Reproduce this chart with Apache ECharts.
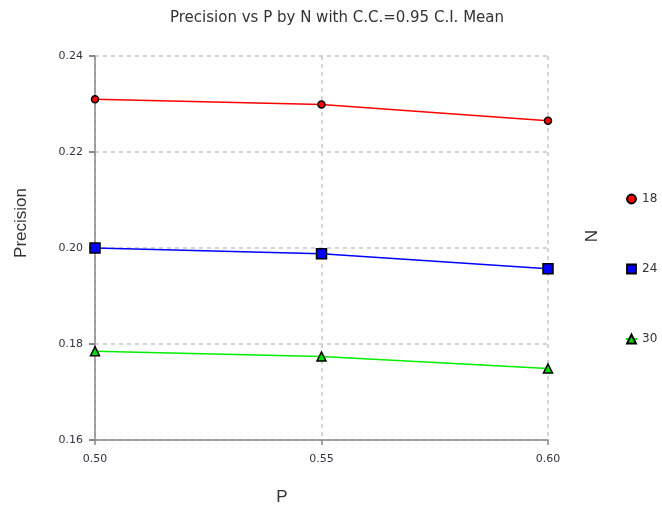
<!DOCTYPE html>
<html>
<head>
<meta charset="utf-8">
<script src="https://cdn.jsdelivr.net/npm/echarts@6/dist/echarts.min.js"></script>
<style>
  html, body { margin: 0; padding: 0; background: #fff; }
  #chart { width: 662px; height: 508px; }
</style>
</head>
<body>
<div id="chart"></div>
<script>
// data
const pValues = [0.50, 0.55, 0.60];
const n18 = [0.2310, 0.2299, 0.2265];
const n24 = [0.2000, 0.1988, 0.1957];
const n30 = [0.1785, 0.1774, 0.1749];
const seriesNames = ['18', '24', '30'];

const myChart = echarts.init(document.getElementById('chart'));

function pairs(ys) {
  return pValues.map((x, i) => [x, ys[i]]);
}

const font = '"Liberation Sans", Arial, sans-serif';
const wideFont = '"DejaVu Sans", Verdana, sans-serif';

const option = {
  backgroundColor: '#fff',
  animation: false,
  title: {
    text: 'Precision vs P by N with C.C.=0.95 C.I. Mean',
    left: 332,
    textAlign: 'center',
    top: 6,
    textStyle: { fontSize: 15, fontWeight: 'normal', color: '#333', fontFamily: wideFont },
  },
  legend: {
    orient: 'vertical',
    left: 620,
    top: 188,
    itemGap: 58,
    itemWidth: 11,
    itemHeight: 11,
    data: seriesNames,
    textStyle: { fontSize: 12, color: '#333', fontFamily: wideFont },
  },
  grid: { left: 95, right: 114, top: 56, bottom: 68 },
  xAxis: {
    type: 'value',
    min: 0.5,
    max: 0.6,
    interval: 0.05,
    axisLine: { lineStyle: { color: '#888', width: 1.5 } },
    axisTick: { show: true, length: 5, lineStyle: { color: '#888', width: 1.5 } },
    axisLabel: {
      fontSize: 11, color: '#334', fontFamily: wideFont, margin: 14,
      formatter: (v) => v.toFixed(2),
    },
    splitLine: { show: true, lineStyle: { color: '#c8c8c8', type: [4, 4], width: 1.5 } },
  },
  yAxis: {
    type: 'value',
    min: 0.16,
    max: 0.24,
    interval: 0.02,
    axisLine: { show: true, lineStyle: { color: '#888', width: 1.5 } },
    axisTick: { show: true, length: 6, lineStyle: { color: '#888', width: 2 } },
    axisLabel: {
      fontSize: 11, color: '#334', fontFamily: wideFont, margin: 12,
      formatter: (v) => v.toFixed(2),
    },
    splitLine: { show: true, lineStyle: { color: '#c8c8c8', type: [4, 4], width: 1.5 } },
  },
  graphic: [
    {
      type: 'text',
      x: 21,
      y: 223,
      rotation: Math.PI / 2,
      style: { text: 'Precision', font: '17px ' + font, fill: '#333', align: 'center', verticalAlign: 'middle' },
    },
    {
      type: 'text',
      x: 282,
      y: 497,
      style: { text: 'P', font: '17px ' + font, fill: '#333', align: 'center', verticalAlign: 'middle' },
    },
    {
      type: 'text',
      x: 592,
      y: 236,
      rotation: Math.PI / 2,
      style: { text: 'N', font: '17px ' + font, fill: '#333', align: 'center', verticalAlign: 'middle' },
    },
  ],
  series: [
    {
      name: '18',
      type: 'line',
      data: pairs(n18),
      symbol: 'circle',
      symbolSize: 7,
      lineStyle: { color: '#ff0000', width: 1.5 },
      itemStyle: { color: '#ff0000', borderColor: '#000', borderWidth: 1.5 },
    },
    {
      name: '24',
      type: 'line',
      data: pairs(n24),
      symbol: 'rect',
      symbolSize: 10,
      lineStyle: { color: '#0000ff', width: 1.5 },
      itemStyle: { color: '#0000ff', borderColor: '#000', borderWidth: 1.5 },
    },
    {
      name: '30',
      type: 'line',
      data: pairs(n30),
      symbol: 'triangle',
      symbolSize: 9,
      lineStyle: { color: '#00ee00', width: 1.5 },
      itemStyle: { color: '#00dd00', borderColor: '#000', borderWidth: 1.5 },
    },
  ],
};

myChart.setOption(option);
</script>
</body>
</html>
